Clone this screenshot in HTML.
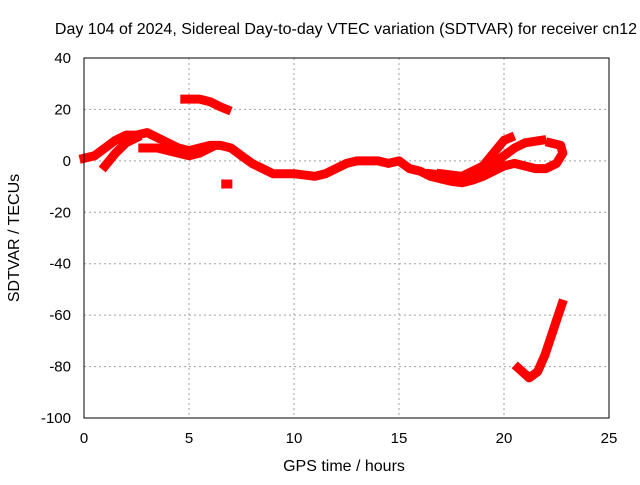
<!DOCTYPE html>
<html><head><meta charset="utf-8"><style>
body{margin:0;background:#fff}
svg text{font-family:"Liberation Sans",sans-serif;font-size:15px;fill:#000}
svg text.t{font-size:16px}
</style></head><body>
<svg id="chart" width="640" height="480">
<rect width="640" height="480" fill="#fff"/>
<g id="grid"></g>
<g id="series"></g>
<rect x="84" y="58" width="525" height="360" fill="none" stroke="#000" stroke-width="1"/>
<g id="ticks"></g>
<text class="t" x="346" y="34" text-anchor="middle">Day 104 of 2024, Sidereal Day-to-day VTEC variation (SDTVAR) for receiver cn12</text>
<text class="t" x="344" y="471" text-anchor="middle">GPS time / hours</text>
<text class="t" x="0" y="0" transform="translate(19,238) rotate(-90)" text-anchor="middle">SDTVAR / TECUs</text>
</svg>
<script>
const xTicks=[0,5,10,15,20,25];
const yTicks=[40,20,0,-20,-40,-60,-80,-100];
const trackMain=[[0,1],[0.5,2],[1,5],[1.5,8],[2,10],[2.5,10],[3,11],[3.5,9],[4,7],[4.5,5],[5,4],[5.5,5],[6,6],[6.5,6],[7,5],[7.5,2],[8,-1],[8.5,-3],[9,-5],[10,-5],[11,-6],[11.5,-5],[12,-3],[12.5,-1],[13,0],[14,0],[14.5,-1],[15,0],[15.5,-3],[16,-4],[16.5,-6],[17,-7],[17.5,-8],[18,-8.5],[18.5,-7.5],[19,-6],[19.5,-4],[20,-2],[20.5,-1],[21,-2],[21.5,-3],[22,-3],[22.5,-1],[22.8,3],[22.7,6],[22.2,7]];
const trackB=[[1,-2],[1.5,3],[2,7],[2.5,9]];
const trackC=[[2.8,5],[3.5,5],[4,4],[5,2],[5.5,3],[6,5]];
const trackTop=[[4.8,24],[5.5,24],[6,23],[6.5,21],[6.8,20]];
const trackDot=[[6.75,-9],[6.85,-9]];
const trackE=[[17,-5],[18,-6],[19,-2],[19.5,3],[20,8],[20.3,9]];
const trackF=[[18.5,-7],[19.5,-1],[20.5,5],[21,7],[21.8,8]];
const trackG=[[20.67,-80.5],[21.2,-84.4],[21.6,-82],[21.95,-75.5],[22.5,-62],[22.76,-55.7]];
const trackValley=[[16.5,-5],[17,-5.5],[17.5,-6.5],[18,-7],[18.5,-6]];
const tracks=[trackMain,trackB,trackC,trackTop,trackDot,trackE,trackF,trackG,trackValley];
const X=h=>84+h*21, Y=v=>58+(40-v)*360/140;
const NS="http://www.w3.org/2000/svg";
const grid=document.getElementById('grid'),ticks=document.getElementById('ticks'),ser=document.getElementById('series');
function mk(tag,a,p){const e=document.createElementNS(NS,tag);for(const k in a)e.setAttribute(k,a[k]);p.appendChild(e);return e;}
xTicks.forEach(t=>{
 if(t>0&&t<25){const g=mk('line',{x1:X(t),x2:X(t),y1:58,y2:418,stroke:'#a0a0a0','stroke-dasharray':'2,3'},grid);
 
 }
 const l=mk('text',{x:X(t),y:443,'text-anchor':'middle'},ticks);l.textContent=t;
 
 
});
yTicks.forEach(t=>{
 if(t<40&&t>-100){const g=mk('line',{x1:84,x2:609,y1:Y(t),y2:Y(t),stroke:'#a0a0a0','stroke-dasharray':'2,3'},grid);
 
 }
 const l=mk('text',{x:71,y:Y(t)+5,'text-anchor':'end'},ticks);l.textContent=t;
 
 
});
tracks.forEach(tr=>{
 const p=mk('polyline',{points:tr.map(d=>X(d[0])+','+Y(d[1])).join(' '),fill:'none',stroke:'#ff0000','stroke-width':9,'stroke-linejoin':'round','stroke-linecap':'square'},ser);
 
 
});
</script>
</body></html>
